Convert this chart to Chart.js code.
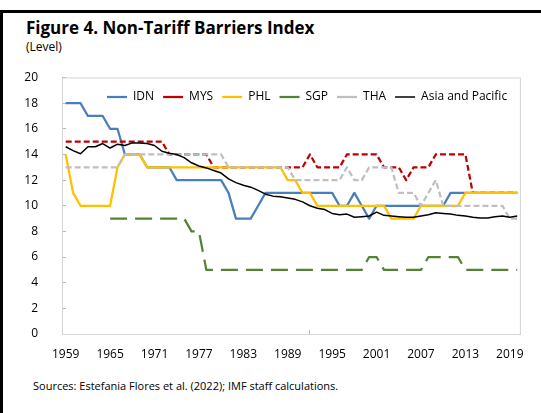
<!DOCTYPE html>
<html>
<head>
<meta charset="utf-8">
<script src="https://cdn.jsdelivr.net/npm/chart.js"></script>
<style>
  html, body { margin: 0; padding: 0; background: #fff; }
  body { width: 541px; height: 413px; position: relative; overflow: hidden; font-family: "Open Sans", sans-serif; color: #000; }
  .frame { position: absolute; left: 0; top: 10px; width: 600px; height: 450px; border-left: 3px solid #000; border-top: 3px solid #000; }
  .title { position: absolute; left: 26px; top: 16px; font-size: 17px; font-weight: bold; white-space: nowrap; }
  .unit { position: absolute; left: 26px; top: 38px; font-size: 12px; }
  .source { position: absolute; left: 33px; top: 378px; font-size: 11px; white-space: nowrap; }
  #wrap { position: absolute; left: 0; top: 0; width: 541px; height: 413px; }
</style>
</head>
<body>
<div class="frame"></div>
<div class="title">Figure 4. Non-Tariff Barriers Index</div>
<div class="unit">(Level)</div>
<div class="source">Sources: Estefania Flores et al. (2022); IMF staff calculations.</div>
<div id="wrap"><canvas id="myChart" width="541" height="413"></canvas></div>
<script>
const years = [
  '1959', '1960', '1961', '1962', '1963', '1964', '1965', '1966', '1967', '1968',
  '1969', '1970', '1971', '1972', '1973', '1974', '1975', '1976', '1977', '1978',
  '1979', '1980', '1981', '1982', '1983', '1984', '1985', '1986', '1987', '1988',
  '1989', '1990', '1991', '1992', '1993', '1994', '1995', '1996', '1997', '1998',
  '1999', '2000', '2001', '2002', '2003', '2004', '2005', '2006', '2007', '2008',
  '2009', '2010', '2011', '2012', '2013', '2014', '2015', '2016', '2017', '2018',
  '2019', '2020'
];

const idn = [18, 18, 18, 17, 17, 17, 16, 16, 14, 14, 14, 13, 13, 13, 13, 12, 12, 12, 12, 12,
  12, 12, 11, 9, 9, 9, 10, 11, 11, 11, 11, 11, 11, 11, 11, 11, 11, 10, 10, 11,
  10, 9, 10, 10, 10, 10, 10, 10, 10, 10, 10, 10, 11, 11, 11, 11, 11, 11, 11, 11,
  11, 11];

const mys = [15, 15, 15, 15, 15, 15, 15, 15, 15, 15, 15, 15, 15, 15, 14, 14, 14, 14, 14, 14,
  13, 13, 13, 13, 13, 13, 13, 13, 13, 13, 13, 13, 13, 14, 13, 13, 13, 13, 14, 14,
  14, 14, 14, 13, 13, 13, 12, 13, 13, 13, 14, 14, 14, 14, 14, 11, 11, 11, 11, 11,
  11, 11];

const phl = [14, 11, 10, 10, 10, 10, 10, 13, 14, 14, 14, 13, 13, 13, 13, 13, 13, 13, 13, 13,
  13, 13, 13, 13, 13, 13, 13, 13, 13, 13, 12, 12, 11, 11, 10, 10, 10, 10, 10, 10,
  10, 10, 10, 10, 9, 9, 9, 9, 10, 10, 10, 10, 10, 10, 11, 11, 11, 11, 11, 11,
  11, 11];

const sgp = [null, null, null, null, null, null, 9, 9, 9, 9, 9, 9, 9, 9, 9, 9, 9, 8, 8, 5,
  5, 5, 5, 5, 5, 5, 5, 5, 5, 5, 5, 5, 5, 5, 5, 5, 5, 5, 5, 5,
  5, 6, 6, 5, 5, 5, 5, 5, 5, 6, 6, 6, 6, 6, 5, 5, 5, 5, 5, 5,
  5, 5];

const tha = [13, 13, 13, 13, 13, 13, 13, 13, 14, 14, 14, 14, 14, 14, 14, 14, 14, 14, 14, 14,
  14, 14, 13, 13, 13, 13, 13, 13, 13, 13, 13, 12, 12, 12, 12, 12, 12, 12, 13, 12,
  12, 13, 13, 13, 13, 11, 11, 11, 10, 11, 12, 10, 10, 10, 10, 10, 10, 10, 10, 10,
  9, 9];

const asiaPacific = [14.6, 14.3, 14.05, 14.6, 14.6, 14.85, 14.5, 14.8, 14.7, 14.9,
  14.9, 14.85, 14.7, 14.25, 14.1, 14.0, 13.75, 13.35, 13.1, 12.95,
  12.75, 12.55, 12.1, 11.8, 11.6, 11.45, 11.2, 10.9, 10.75, 10.7,
  10.6, 10.5, 10.3, 10.0, 9.8, 9.7, 9.4, 9.3, 9.35, 9.1,
  9.15, 9.2, 9.5, 9.25, 9.2, 9.15, 9.1, 9.1, 9.2, 9.3,
  9.45, 9.4, 9.35, 9.25, 9.2, 9.1, 9.05, 9.05, 9.15, 9.2,
  9.1, 9.2];

const yTicks = { min: 0, max: 20, step: 2 };
const labelEvery = 6;

const axisGrey = '#b4b4b4';

// light grey box around the plot area
const plotFrame = {
  id: 'plotFrame',
  beforeDatasetsDraw(chart) {
    const {ctx, chartArea: a} = chart;
    ctx.save();
    ctx.strokeStyle = '#d4d4d4';
    ctx.lineWidth = 1;
    ctx.strokeRect(a.left + 0.5, a.top + 0.5, a.right - a.left - 1, a.bottom - a.top);
    ctx.restore();
  }
};

// the legend sits inside the plot, just under its top edge
const legendInside = {
  id: 'legendInside',
  afterLayout(chart) {
    const lg = chart.legend;
    const pad = lg.options.labels.padding;
    const h = lg.bottom - lg.top;
    lg.top = chart.chartArea.top + 4.5;
    lg.bottom = lg.top + h;
    lg.left = chart.chartArea.left + 45 - pad;
    lg.right = chart.width;
    lg.width = lg.right - lg.left;
  }
};

const ctx = document.getElementById('myChart');

Chart.defaults.font.family = '"Open Sans", sans-serif';
Chart.defaults.font.size = 12;
Chart.defaults.color = '#000';

function line(label, data, color, width, dash) {
  return {
    label: label,
    data: data,
    borderColor: color,
    backgroundColor: color,
    borderWidth: width,
    borderDash: dash,
    borderJoinStyle: 'round',
    pointRadius: 0,
    pointHoverRadius: 0,
    tension: 0,
    fill: false
  };
}

new Chart(ctx, {
  type: 'line',
  data: {
    labels: years,
    // reversed so the regional average is drawn on top; legend is reversed back
    datasets: [
      line('Asia and Pacific', asiaPacific, '#000000', 1.5, []),
      line('THA', tha, '#bfbfbf', 2.25, [6, 3]),
      line('SGP', sgp, '#548235', 2.25, [17, 8]),
      line('PHL', phl, '#ffc000', 2.25, []),
      line('MYS', mys, '#c00000', 2.25, [6, 3]),
      line('IDN', idn, '#4a7ebb', 2.25, [])
    ]
  },
  options: {
    responsive: false,
    animation: false,
    events: [],
    layout: { padding: { left: 22, top: 46.5, right: 20, bottom: 39 } },
    plugins: {
      legend: {
        position: 'top',
        align: 'start',
        reverse: true,
        labels: {
          usePointStyle: true,
          pointStyle: 'line',
          pointStyleWidth: 20,
          padding: 9,
          color: '#000',
          font: { size: 12 }
        }
      },
      tooltip: { enabled: false }
    },
    scales: {
      x: {
        type: 'category',
        offset: true,
        ticks: {
          autoSkip: false,
          maxRotation: 0,
          minRotation: 0,
          padding: 17,
          color: '#000',
          callback: function(v, i) { return i % labelEvery === 0 ? this.getLabelForValue(v) : null; }
        },
        grid: {
          offset: true,
          drawOnChartArea: false,
          drawTicks: true,
          tickLength: -4,
          color: axisGrey,
          tickColor: c => (c.index % labelEvery === 0 ? axisGrey : 'rgba(0,0,0,0)')
        },
        border: { color: axisGrey },
        afterFit: s => { s.height = 40; }
      },
      y: {
        min: yTicks.min,
        max: yTicks.max,
        ticks: { stepSize: yTicks.step, padding: 28, color: '#000' },
        grid: { drawOnChartArea: false, drawTicks: true, tickLength: -4, color: axisGrey },
        border: { color: axisGrey },
        afterFit: s => { s.width = 40; }
      }
    }
  },
  plugins: [plotFrame, legendInside]
});
</script>
</body>
</html>
